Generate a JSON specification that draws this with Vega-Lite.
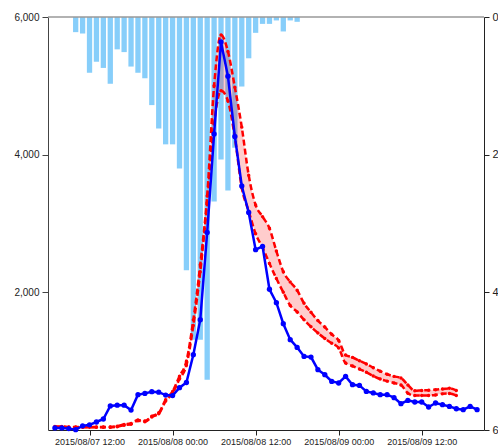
{
  "$schema": "https://vega.github.io/schema/vega-lite/v6.json",
  "width": 436,
  "height": 413,
  "autosize": "none",
  "padding": {"left": 48, "top": 17, "right": 14, "bottom": 18},
  "config": {"view": {"stroke": null}, "axis": {"labelFont": "Liberation Sans", "labelColor": "#222", "grid": false}},
  "datasets": {
    "top": [{"v": 6000}],
    "rain": [
      {"t": "2015-08-07T10:00", "p": 0.22}, {"t": "2015-08-07T11:00", "p": 0.24}, {"t": "2015-08-07T12:00", "p": 0.81},
      {"t": "2015-08-07T13:00", "p": 0.65}, {"t": "2015-08-07T14:00", "p": 0.74}, {"t": "2015-08-07T15:00", "p": 0.97},
      {"t": "2015-08-07T16:00", "p": 0.47}, {"t": "2015-08-07T17:00", "p": 0.51}, {"t": "2015-08-07T18:00", "p": 0.72},
      {"t": "2015-08-07T19:00", "p": 0.81}, {"t": "2015-08-07T20:00", "p": 0.89}, {"t": "2015-08-07T21:00", "p": 1.28},
      {"t": "2015-08-07T22:00", "p": 1.62}, {"t": "2015-08-07T23:00", "p": 1.85}, {"t": "2015-08-08T00:00", "p": 1.85},
      {"t": "2015-08-08T01:00", "p": 2.2}, {"t": "2015-08-08T02:00", "p": 3.68}, {"t": "2015-08-08T03:00", "p": 4.69},
      {"t": "2015-08-08T04:00", "p": 4.69}, {"t": "2015-08-08T05:00", "p": 5.27}, {"t": "2015-08-08T06:00", "p": 2.68},
      {"t": "2015-08-08T07:00", "p": 2.07}, {"t": "2015-08-08T08:00", "p": 2.52}, {"t": "2015-08-08T09:00", "p": 1.9},
      {"t": "2015-08-08T10:00", "p": 1.01}, {"t": "2015-08-08T11:00", "p": 0.6}, {"t": "2015-08-08T12:00", "p": 0.23},
      {"t": "2015-08-08T13:00", "p": 0.1}, {"t": "2015-08-08T14:00", "p": 0.1}, {"t": "2015-08-08T15:00", "p": 0.05},
      {"t": "2015-08-08T16:00", "p": 0.21}, {"t": "2015-08-08T17:00", "p": 0.05}, {"t": "2015-08-08T18:00", "p": 0.07}
    ],
    "obs": [
      {"t": "2015-08-07T07:00", "q": 30}, {"t": "2015-08-07T08:00", "q": 30}, {"t": "2015-08-07T09:00", "q": 20},
      {"t": "2015-08-07T10:00", "q": 5}, {"t": "2015-08-07T11:00", "q": 60}, {"t": "2015-08-07T12:00", "q": 75},
      {"t": "2015-08-07T13:00", "q": 116}, {"t": "2015-08-07T14:00", "q": 160}, {"t": "2015-08-07T15:00", "q": 350},
      {"t": "2015-08-07T16:00", "q": 360}, {"t": "2015-08-07T17:00", "q": 360}, {"t": "2015-08-07T18:00", "q": 290},
      {"t": "2015-08-07T19:00", "q": 513}, {"t": "2015-08-07T20:00", "q": 532}, {"t": "2015-08-07T21:00", "q": 556},
      {"t": "2015-08-07T22:00", "q": 550}, {"t": "2015-08-07T23:00", "q": 508}, {"t": "2015-08-08T00:00", "q": 500},
      {"t": "2015-08-08T01:00", "q": 615}, {"t": "2015-08-08T02:00", "q": 690}, {"t": "2015-08-08T03:00", "q": 1094},
      {"t": "2015-08-08T04:00", "q": 1602}, {"t": "2015-08-08T05:00", "q": 2871}, {"t": "2015-08-08T06:00", "q": 4300},
      {"t": "2015-08-08T07:00", "q": 5637}, {"t": "2015-08-08T08:00", "q": 5140}, {"t": "2015-08-08T09:00", "q": 4265},
      {"t": "2015-08-08T10:00", "q": 3545}, {"t": "2015-08-08T11:00", "q": 3160}, {"t": "2015-08-08T12:00", "q": 2620},
      {"t": "2015-08-08T13:00", "q": 2667}, {"t": "2015-08-08T14:00", "q": 2045}, {"t": "2015-08-08T15:00", "q": 1850},
      {"t": "2015-08-08T16:00", "q": 1544}, {"t": "2015-08-08T17:00", "q": 1312}, {"t": "2015-08-08T18:00", "q": 1200},
      {"t": "2015-08-08T19:00", "q": 1069}, {"t": "2015-08-08T20:00", "q": 1060}, {"t": "2015-08-08T21:00", "q": 876},
      {"t": "2015-08-08T22:00", "q": 803}, {"t": "2015-08-08T23:00", "q": 706}, {"t": "2015-08-09T00:00", "q": 683},
      {"t": "2015-08-09T01:00", "q": 779}, {"t": "2015-08-09T02:00", "q": 658}, {"t": "2015-08-09T03:00", "q": 648},
      {"t": "2015-08-09T04:00", "q": 561}, {"t": "2015-08-09T05:00", "q": 538}, {"t": "2015-08-09T06:00", "q": 513},
      {"t": "2015-08-09T07:00", "q": 513}, {"t": "2015-08-09T08:00", "q": 470}, {"t": "2015-08-09T09:00", "q": 382},
      {"t": "2015-08-09T10:00", "q": 430}, {"t": "2015-08-09T11:00", "q": 407}, {"t": "2015-08-09T12:00", "q": 407},
      {"t": "2015-08-09T13:00", "q": 334}, {"t": "2015-08-09T14:00", "q": 392}, {"t": "2015-08-09T15:00", "q": 368},
      {"t": "2015-08-09T16:00", "q": 343}, {"t": "2015-08-09T17:00", "q": 309}, {"t": "2015-08-09T18:00", "q": 295},
      {"t": "2015-08-09T19:00", "q": 343}, {"t": "2015-08-09T20:00", "q": 295}
    ],
    "sim": [
      {"t": "2015-08-07T07:00", "hi": 52, "lo": 45}, {"t": "2015-08-07T08:00", "hi": 52, "lo": 45},
      {"t": "2015-08-07T09:00", "hi": 45, "lo": 40}, {"t": "2015-08-07T10:00", "hi": 45, "lo": 40},
      {"t": "2015-08-07T11:00", "hi": 45, "lo": 40}, {"t": "2015-08-07T12:00", "hi": 45, "lo": 40},
      {"t": "2015-08-07T13:00", "hi": 45, "lo": 40}, {"t": "2015-08-07T14:00", "hi": 45, "lo": 40},
      {"t": "2015-08-07T15:00", "hi": 45, "lo": 40}, {"t": "2015-08-07T16:00", "hi": 55, "lo": 48},
      {"t": "2015-08-07T17:00", "hi": 80, "lo": 70}, {"t": "2015-08-07T18:00", "hi": 95, "lo": 85},
      {"t": "2015-08-07T19:00", "hi": 145, "lo": 135}, {"t": "2015-08-07T20:00", "hi": 130, "lo": 120},
      {"t": "2015-08-07T21:00", "hi": 200, "lo": 190}, {"t": "2015-08-07T22:00", "hi": 250, "lo": 235},
      {"t": "2015-08-07T23:00", "hi": 440, "lo": 420}, {"t": "2015-08-08T00:00", "hi": 560, "lo": 535},
      {"t": "2015-08-08T01:00", "hi": 780, "lo": 740}, {"t": "2015-08-08T02:00", "hi": 1000, "lo": 940},
      {"t": "2015-08-08T03:00", "hi": 1600, "lo": 1520}, {"t": "2015-08-08T04:00", "hi": 2400, "lo": 2300},
      {"t": "2015-08-08T05:00", "hi": 3400, "lo": 3300}, {"t": "2015-08-08T06:00", "hi": 5000, "lo": 4450},
      {"t": "2015-08-08T07:00", "hi": 5740, "lo": 4930}, {"t": "2015-08-08T08:00", "hi": 5500, "lo": 4780},
      {"t": "2015-08-08T09:00", "hi": 4980, "lo": 4250}, {"t": "2015-08-08T10:00", "hi": 4400, "lo": 3520},
      {"t": "2015-08-08T11:00", "hi": 3700, "lo": 3180}, {"t": "2015-08-08T12:00", "hi": 3270, "lo": 2850},
      {"t": "2015-08-08T13:00", "hi": 3100, "lo": 2650}, {"t": "2015-08-08T14:00", "hi": 2930, "lo": 2420},
      {"t": "2015-08-08T15:00", "hi": 2600, "lo": 2200}, {"t": "2015-08-08T16:00", "hi": 2300, "lo": 2000},
      {"t": "2015-08-08T17:00", "hi": 2150, "lo": 1810}, {"t": "2015-08-08T18:00", "hi": 2030, "lo": 1715},
      {"t": "2015-08-08T19:00", "hi": 1840, "lo": 1600}, {"t": "2015-08-08T20:00", "hi": 1710, "lo": 1500},
      {"t": "2015-08-08T21:00", "hi": 1590, "lo": 1410}, {"t": "2015-08-08T22:00", "hi": 1495, "lo": 1330},
      {"t": "2015-08-08T23:00", "hi": 1390, "lo": 1260}, {"t": "2015-08-09T00:00", "hi": 1300, "lo": 1190},
      {"t": "2015-08-09T01:00", "hi": 1090, "lo": 973}, {"t": "2015-08-09T02:00", "hi": 1055, "lo": 930},
      {"t": "2015-08-09T03:00", "hi": 1005, "lo": 885}, {"t": "2015-08-09T04:00", "hi": 960, "lo": 840},
      {"t": "2015-08-09T05:00", "hi": 905, "lo": 785}, {"t": "2015-08-09T06:00", "hi": 855, "lo": 740},
      {"t": "2015-08-09T07:00", "hi": 810, "lo": 710}, {"t": "2015-08-09T08:00", "hi": 779, "lo": 683},
      {"t": "2015-08-09T09:00", "hi": 755, "lo": 655}, {"t": "2015-08-09T10:00", "hi": 655, "lo": 535},
      {"t": "2015-08-09T11:00", "hi": 570, "lo": 500}, {"t": "2015-08-09T12:00", "hi": 575, "lo": 500},
      {"t": "2015-08-09T13:00", "hi": 578, "lo": 502}, {"t": "2015-08-09T14:00", "hi": 586, "lo": 510},
      {"t": "2015-08-09T15:00", "hi": 595, "lo": 525}, {"t": "2015-08-09T16:00", "hi": 605, "lo": 530},
      {"t": "2015-08-09T17:00", "hi": 575, "lo": 500}
    ]
  },
  "resolve": {"scale": {"y": "independent"}},
  "layer": [
    {
      "data": {"name": "rain"},
      "mark": {"type": "bar", "color": "#87CEFA", "size": 5.3},
      "encoding": {
        "x": {"field": "t", "type": "temporal",
          "scale": {"domain": [{"year": 2015, "month": 8, "date": 7, "hours": 6}, {"year": 2015, "month": 8, "date": 9, "hours": 21}], "padding": 0},
          "axis": {"values": [
            {"year": 2015, "month": 8, "date": 7, "hours": 12},
            {"year": 2015, "month": 8, "date": 8, "hours": 0},
            {"year": 2015, "month": 8, "date": 8, "hours": 12},
            {"year": 2015, "month": 8, "date": 9, "hours": 0},
            {"year": 2015, "month": 8, "date": 9, "hours": 12}],
            "format": "%Y/%m/%d %H:%M", "title": null, "labelFontSize": 9, "tickSize": 5, "labelPadding": 2,
            "domainColor": "#222", "tickColor": "#222", "labelFlush": false}},
        "y": {"field": "p", "type": "quantitative",
          "scale": {"domain": [0, 6], "reverse": true, "nice": false, "padding": 0},
          "axis": {"orient": "right", "values": [0, 2, 4, 6], "title": null, "labelFontSize": 11, "tickSize": 5, "labelPadding": 3, "domainColor": "#222", "tickColor": "#222"}}
      }
    },
    {
      "encoding": {
        "y": {"type": "quantitative", "scale": {"domain": [0, 6000], "nice": false},
          "axis": {"orient": "left", "values": [2000, 4000, 6000], "format": ",.0f", "title": null, "labelFontSize": 10, "tickSize": 6, "labelPadding": 3, "domainColor": "#444", "tickColor": "#444"}}
      },
      "layer": [
        {
          "data": {"name": "sim"},
          "mark": {"type": "area", "color": "#ff0000", "opacity": 0.2, "interpolate": "monotone"},
          "encoding": {
            "x": {"field": "t", "type": "temporal"},
            "y": {"field": "hi"},
            "y2": {"field": "lo"}
          }
        },
        {
          "data": {"name": "top"},
          "mark": {"type": "rule", "color": "#999", "strokeWidth": 1.5},
          "encoding": {"y": {"field": "v"}}
        },
        {
          "data": {"name": "sim"},
          "mark": {"type": "line", "color": "#ff0000", "strokeWidth": 2.5, "strokeDash": [6, 3], "interpolate": "monotone",
            "point": {"filled": true, "size": 12, "color": "#ff0000"}},
          "encoding": {"x": {"field": "t", "type": "temporal"}, "y": {"field": "hi"}}
        },
        {
          "data": {"name": "sim"},
          "mark": {"type": "line", "color": "#ff0000", "strokeWidth": 2.5, "strokeDash": [6, 3], "interpolate": "monotone",
            "point": {"filled": true, "size": 12, "color": "#ff0000"}},
          "encoding": {"x": {"field": "t", "type": "temporal"}, "y": {"field": "lo"}}
        },
        {
          "data": {"name": "obs"},
          "mark": {"type": "line", "color": "#0000ff", "strokeWidth": 2.5,
            "point": {"filled": true, "size": 28, "color": "#0000ff"}},
          "encoding": {"x": {"field": "t", "type": "temporal"}, "y": {"field": "q"}}
        }
      ]
    }
  ]
}
